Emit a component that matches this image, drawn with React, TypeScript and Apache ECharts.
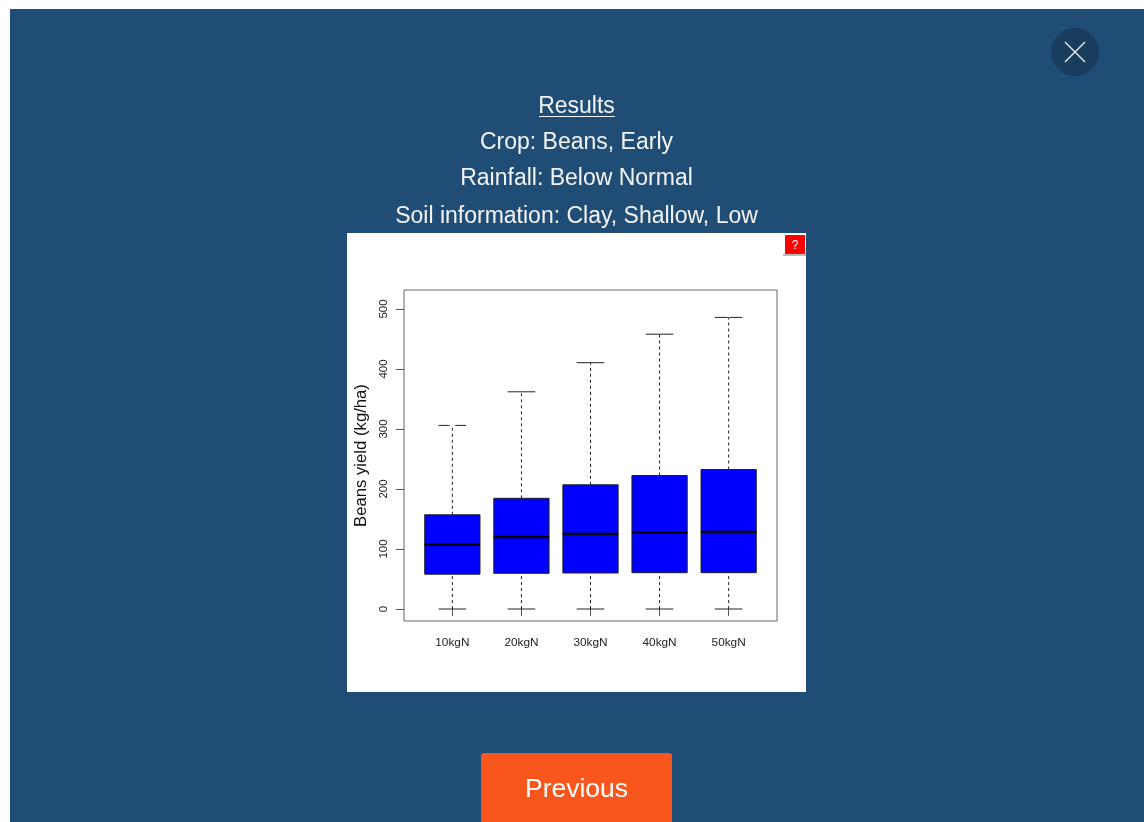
import React, { useEffect, useRef } from "react";
import * as echarts from "echarts";

const categories = ["10kgN", "20kgN", "30kgN", "40kgN", "50kgN"];
const positions = [1, 2, 3, 4, 5];
const lowWhisker = [0, 0, 0, 0, 0];
const q1 = [58, 59.5, 60, 60.5, 60.5];
const median = [107, 120, 125, 127, 128.5];
const q3 = [157, 184.5, 207, 222.5, 232.5];
const highWhisker = [306, 362, 410.5, 458, 486];
const outliers = [
  [1, 363], [1, 327], [1, 317], [1, 314.5], [1, 310],
  [2, 395.5],
  [5, 512], [5, 498], [5, 493],
];
const yTicks = [0, 100, 200, 300, 400, 500];
const headerLines = ["Crop: Beans, Early", "Rainfall: Below Normal", "Soil information: Clay, Shallow, Low"];

const FONT = "Liberation Sans";
const INK = "#222";

function renderBox(_params: any, api: any) {
  const x = api.value(0);
  const halfBox = 0.4;
  const halfCap = 0.2;
  const pt = (dx: number, dim: number) => api.coord([x + dx, api.value(dim)]);
  const lo = pt(0, 1), b = pt(0, 2), m = pt(0, 3), t = pt(0, 4), hi = pt(0, 5);
  const left = pt(-halfBox, 2)[0], right = pt(halfBox, 2)[0];
  const capL = pt(-halfCap, 2)[0], capR = pt(halfCap, 2)[0];
  const thin = { stroke: INK, lineWidth: 1 };
  const dash = { stroke: INK, lineWidth: 1, lineDash: [3, 3] };
  return {
    type: "group",
    children: [
      { type: "line", shape: { x1: x && lo[0], y1: lo[1], x2: b[0], y2: b[1] }, style: dash },
      { type: "line", shape: { x1: t[0], y1: t[1], x2: hi[0], y2: hi[1] }, style: dash },
      { type: "line", shape: { x1: capL, y1: lo[1], x2: capR, y2: lo[1] }, style: thin },
      { type: "line", shape: { x1: capL, y1: hi[1], x2: capR, y2: hi[1] }, style: thin },
      { type: "rect", shape: { x: left, y: t[1], width: right - left, height: b[1] - t[1] }, style: { fill: "#0000ff", stroke: INK, lineWidth: 1 } },
      { type: "line", shape: { x1: left, y1: m[1], x2: right, y2: m[1] }, style: { stroke: "#000", lineWidth: 2.5 } },
    ],
  };
}

export default function App() {
  const ref = useRef<HTMLDivElement>(null);
  useEffect(() => {
    document.body.style.margin = "0";
    document.body.style.background = "#fff";
    const chart = echarts.init(ref.current!, undefined, { renderer: "svg" });
    const headerY = [141, 177, 215];
    chart.setOption({
      animation: false,
      textStyle: { fontFamily: FONT },
      graphic: [
        { type: "rect", z: -10, silent: true, shape: { x: 10, y: 9, width: 1134, height: 813 }, style: { fill: "#1f4d76" } },
        { type: "rect", z: -9, silent: true, shape: { x: 347, y: 233, width: 459, height: 459 }, style: { fill: "#fff" } },
        { type: "circle", z: -9, silent: true, shape: { cx: 1075, cy: 52, r: 24 }, style: { fill: "#193d5e" } },
        { type: "line", z: 5, silent: true, shape: { x1: 1065, y1: 42, x2: 1085, y2: 62 }, style: { stroke: "#f0f0f0", lineWidth: 1.3 } },
        { type: "line", z: 5, silent: true, shape: { x1: 1085, y1: 42, x2: 1065, y2: 62 }, style: { stroke: "#f0f0f0", lineWidth: 1.3 } },
        { type: "text", z: 5, x: 576.5, y: 105, style: { text: "Results", fill: "#f4f4f4", font: `23px "${FONT}"`, textAlign: "center", textVerticalAlign: "middle" } },
        { type: "line", z: 5, silent: true, shape: { x1: 539, y1: 116.5, x2: 615, y2: 116.5 }, style: { stroke: "#f4f4f4", lineWidth: 1.2 } },
        ...headerLines.map((t, i) => ({
          type: "text", z: 5, x: 576.5, y: headerY[i],
          style: { text: t, fill: "#f4f4f4", font: `23px "${FONT}"`, textAlign: "center", textVerticalAlign: "middle" },
        })),
        { type: "line", z: 5, silent: true, shape: { x1: 783, y1: 255, x2: 806, y2: 255 }, style: { stroke: "#777", lineWidth: 1 } },
        { type: "rect", z: 5, silent: true, shape: { x: 785, y: 235, width: 20, height: 19 }, style: { fill: "#ff0000" } },
        { type: "text", z: 6, x: 795, y: 244.5, style: { text: "?", fill: "#fff", font: `12px "${FONT}"`, textAlign: "center", textVerticalAlign: "middle" } },
        { type: "rect", z: 5, silent: true, shape: { x: 481, y: 753, width: 191, height: 72, r: 3 }, style: { fill: "#f9561e" } },
        { type: "text", z: 6, x: 576.5, y: 787.5, style: { text: "Previous", fill: "#fff", font: `26.5px "${FONT}"`, textAlign: "center", textVerticalAlign: "middle" } },
      ],
      grid: { left: 404, top: 290, width: 373, height: 331, show: true, borderColor: "#666", borderWidth: 1, backgroundColor: "transparent" },
      xAxis: {
        type: "value",
        min: 0.3,
        max: 5.7,
        splitLine: { show: false },
        axisLine: { show: false },
        axisTick: { show: true, length: 7, lineStyle: { color: "#555" }, customValues: positions },
        axisLabel: {
          show: true,
          customValues: positions,
          margin: 15,
          fontSize: 11.8,
          color: "#222",
          fontFamily: FONT,
          formatter: (v: number) => categories[Math.round(v) - 1] ?? "",
        },
      },
      yAxis: {
        type: "value",
        min: -20,
        max: 531.67,
        name: "Beans yield (kg/ha)",
        nameLocation: "middle",
        nameGap: 35,
        nameTextStyle: { fontSize: 16.7, color: "#111", fontFamily: FONT },
        splitLine: { show: false },
        axisLine: { show: false },
        axisTick: { show: true, length: 8, lineStyle: { color: "#555" }, customValues: yTicks },
        axisLabel: {
          show: true,
          customValues: yTicks,
          rotate: 90,
          margin: 15,
          fontSize: 11.5,
          color: "#222",
          fontFamily: FONT,
        },
      },
      series: [
        {
          type: "custom",
          renderItem: renderBox,
          encode: { x: 0, y: [1, 2, 3, 4, 5] },
          data: positions.map((p, i) => [p, lowWhisker[i], q1[i], median[i], q3[i], highWhisker[i]]),
          clip: false,
          silent: true,
        },
        {
          type: "scatter",
          data: outliers,
          symbol: "emptyCircle",
          symbolSize: 6,
          itemStyle: { color: "#fff", borderColor: "#333", borderWidth: 1 },
          silent: true,
        },
      ],
    });
    return () => chart.dispose();
  }, []);
  return <div ref={ref} style={{ position: "fixed", left: 0, top: 0, width: 1144, height: 822 }} />;
}
